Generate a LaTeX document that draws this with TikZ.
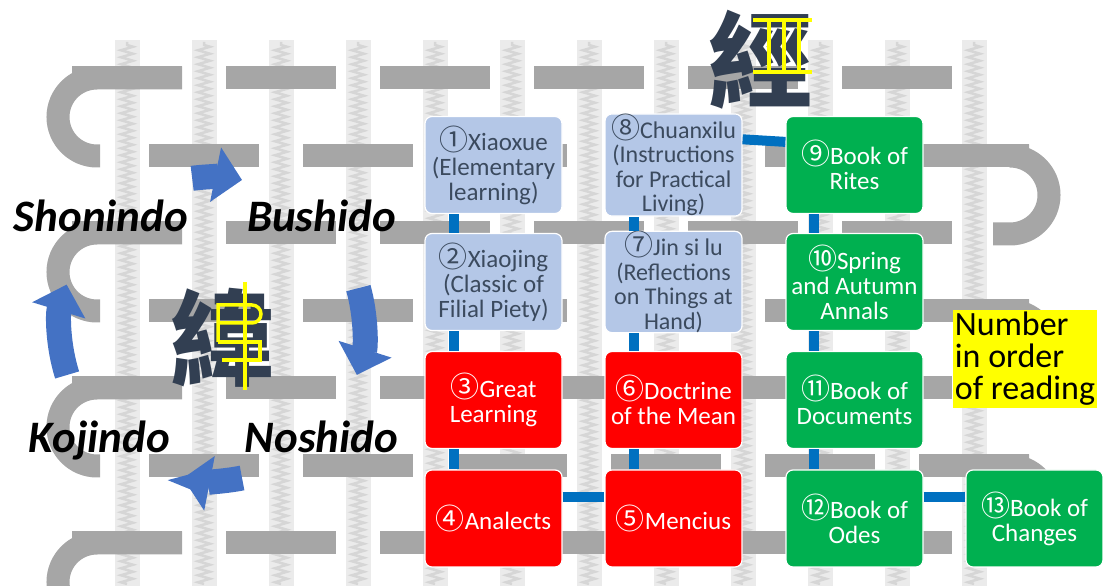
\documentclass[tikz,border=0pt]{standalone}
\usepackage{fontspec}
\setmainfont{Carlito}
\newfontfamily\numfont{Noto Sans CJK JP}
\newfontfamily\kanjifont{Noto Sans CJK TC}
\usetikzlibrary{arrows.meta,decorations.pathmorphing}

\definecolor{warpfill}{HTML}{EBEBEB}
\definecolor{warpline}{HTML}{D6D6D6}
\definecolor{weftgray}{HTML}{A6A6A6}
\definecolor{paleblue}{HTML}{B4C7E7}
\definecolor{bluetext}{HTML}{3B4A5E}
\definecolor{bookred}{HTML}{FF0000}
\definecolor{bookgreen}{HTML}{00B050}
\definecolor{linkblue}{HTML}{0070C0}
\definecolor{cycblue}{HTML}{4472C4}
\definecolor{inkblue}{HTML}{323F52}
\definecolor{marker}{HTML}{FFFF00}

% circled reading number, set a little larger than the title text
\newcommand{\cn}[1]{{\numfont\fontsize{29}{25}\selectfont #1}}

\begin{document}
\begin{tikzpicture}[x=1pt,y=1pt,
  warp/.style={fill=warpfill},
  warpzig/.style={draw=warpline, line width=2.5pt, decorate,
    decoration={zigzag, segment length=7pt, amplitude=6pt}},
  weft/.style={draw=weftgray, line width=23pt},
  book/.style={rounded corners=7pt, minimum width=137pt, minimum height=97pt,
    inner sep=0pt, align=center, draw=white, line width=1.2pt,
    font=\fontsize{25}{25}\selectfont},
  palebook/.style={book, fill=paleblue, text=bluetext},
  redbook/.style={book, fill=bookred, text=white},
  greenbook/.style={book, fill=bookgreen, text=white},
  link/.style={draw=linkblue, line width=10pt},
  way/.style={inner sep=0pt, anchor=base, text=black,
    font=\fontsize{45}{45}\selectfont\bfseries\itshape},
  cyc/.style={draw=cycblue, line width=25pt, -{Triangle[width=54pt,length=27pt]}},
  kanji/.style={inner sep=0pt, text=inkblue, font=\kanjifont\bfseries\fontsize{104}{104}\selectfont},
  hilite/.style={draw=marker, line width=3.5pt},
]
\useasboundingbox (0,0) rectangle (1103,586);

% woven background: warp strips, then weft bars passing over alternate strips
\begin{scope}
\clip (0,0) rectangle (1103,586);
\foreach \sx in {127,204,281,358,435,512,589,666,743,820,897,974} {
  \fill[warp] ({\sx-12.5},0) rectangle ({\sx+12.5},546);
  \draw[warpzig] (\sx,2) -- (\sx,544);
}
\foreach \Y in {508,353,198,43}
  \foreach \sx in {127,281,435,589,743,897}
    \draw[weft] ({\sx-55},\Y) -- ({\sx+55},\Y);
\foreach \Y in {430,275,120,-34}
  \foreach \sx in {204,358,512,666,820,974}
    \draw[weft] ({\sx-55},\Y) -- ({\sx+55},\Y);
\foreach \Y in {508,353,198,43}
  \draw[weft] (182,\Y) -- (97,\Y) arc[start angle=90, end angle=270, radius=39] -- ++(3,0);
\foreach \Y in {430,275,120}
  \draw[weft] (1029,\Y) -- (1010,\Y) arc[start angle=90, end angle=-90, radius=39] -- ++(-17,0);
\end{scope}

% the four ways and their cycle
\node[way] (sho) at (101,354) {Shonindo};
\node[way] (bus) at (321.5,354) {Bushido};
\node[way] (koj) at (99.5,133) {Kojindo};
\node[way] (nos) at (321.5,133) {Noshido};

\coordinate (cyc) at (212,257);
\draw[cyc] (cyc) ++(97.5:152) arc[start angle=97.5, end angle=78.6, radius=152];
\draw[cyc] (cyc) ++(15.6:152) arc[start angle=15.6, end angle=-17.6, radius=152];
\draw[cyc] (cyc) ++(-78.6:152) arc[start angle=-78.6, end angle=-101, radius=152];
\draw[cyc] (cyc) ++(197.6:152) arc[start angle=197.6, end angle=163, radius=152];

% weft character with its marked component
\node[kanji] (wei) at (222,248) {緯};
\draw[hilite] (245,304) -- (245,196);
\draw[hilite] (218,244) -- (218,281) -- (252,281) arc[start angle=90, end angle=-90, radius=9] -- (218,263);
\draw[hilite] (218,244) -- (260,244) -- (260,226) -- (222,226);

% warp character with its marked threads
\node[kanji] (jing) at (760,526) {經};
\draw[hilite] (753,566) -- (812,566);
\draw[hilite] (753,514) -- (812,514);
\foreach \vx in {769,784,799} \draw[hilite] (\vx,566) -- (\vx,514);

% books in reading order
\node[palebook] (b1) at (493.5,421) {\cn{①}Xiaoxue\\(Elementary\\learning)};
\node[palebook] (b2) at (493.5,304) {\cn{②}Xiaojing\\(Classic of\\Filial Piety)};
\node[redbook] (b3) at (493.5,186) {\cn{③}Great\\Learning};
\node[redbook] (b4) at (493.5,67.5) {\cn{④}Analects};
\node[redbook] (b5) at (673.5,67.5) {\cn{⑤}Mencius};
\node[redbook] (b6) at (673.5,186) {\cn{⑥}Doctrine\\of the Mean};
\node[palebook, font=\fontsize{24}{24.5}\selectfont] (b7) at (673.5,304) {\cn{⑦}Jin si lu\\(Reflections\\on Things at\\Hand)};
\node[palebook, font=\fontsize{24}{24.5}\selectfont] (b8) at (673.5,421) {\cn{⑧}Chuanxilu\\(Instructions\\for Practical\\Living)};
\node[greenbook] (b9) at (854.5,421) {\cn{⑨}Book of\\Rites};
\node[greenbook] (b10) at (854.5,304) {\cn{⑩}Spring\\and Autumn\\Annals};
\node[greenbook] (b11) at (854.5,186) {\cn{⑪}Book of\\Documents};
\node[greenbook] (b12) at (854.5,67.5) {\cn{⑫}Book of\\Odes};
\node[greenbook] (b13) at (1034.5,67.5) {\cn{⑬}Book of\\Changes};

% links between consecutive books
\draw[link] ([xshift=30pt]b1.south west) -- ([xshift=30pt]b2.north west);
\draw[link] ([xshift=30pt]b2.south west) -- ([xshift=30pt]b3.north west);
\draw[link] ([xshift=30pt]b3.south west) -- ([xshift=30pt]b4.north west);
\draw[link] ([yshift=-28pt]b4.north east) -- ([yshift=-28pt]b5.north west);
\draw[link] ([xshift=30pt]b5.north west) -- ([xshift=30pt]b6.south west);
\draw[link] ([xshift=30pt]b6.north west) -- ([xshift=30pt]b7.south west);
\draw[link] ([xshift=30pt]b7.north west) -- ([xshift=30pt]b8.south west);
\draw[link] ([yshift=-26pt]b8.north east) -- ([yshift=-26pt]b9.north west);
\draw[link] ([xshift=29pt]b9.south west) -- ([xshift=29pt]b10.north west);
\draw[link] ([xshift=29pt]b10.south west) -- ([xshift=29pt]b11.north west);
\draw[link] ([xshift=29pt]b11.south west) -- ([xshift=29pt]b12.north west);
\draw[link] ([yshift=-28pt]b12.north east) -- ([yshift=-28pt]b13.north west);

% legend
\node[fill=marker, inner sep=2pt, align=left, text=black,
  font=\fontsize{34}{32}\selectfont] (legend) at (1025,227) {Number\\in order\\of reading};
\end{tikzpicture}
\end{document}
